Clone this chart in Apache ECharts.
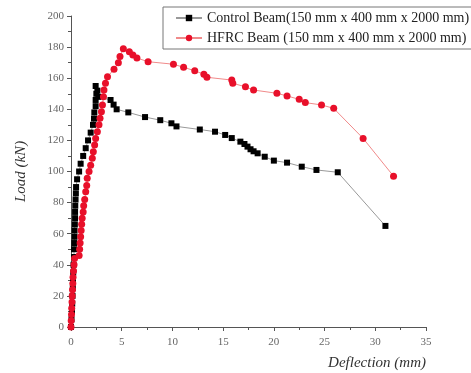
<!DOCTYPE html>
<html>
<head>
<meta charset="utf-8">
<script src="https://cdn.jsdelivr.net/npm/echarts@6/dist/echarts.min.js"></script>
<style>
  html, body { margin: 0; padding: 0; background: #fff; }
  #chart { width: 471px; height: 373px; }
</style>
</head>
<body>
<div id="chart"></div>
<script>
// deflection (mm), load (kN)
const controlDeflection = [0, 0.05, 0.1, 0.12, 0.15, 0.18, 0.2, 0.22, 0.25, 0.3, 0.3, 0.32, 0.35, 0.35, 0.38, 0.4, 0.4, 0.42, 0.45, 0.48, 0.5, 0.6, 0.8, 0.95, 1.2, 1.45, 1.68, 1.94, 2.17, 2.27, 2.3, 2.43, 2.43, 2.5, 2.43, 2.6, 2.7, 3.9, 4.2, 4.5, 5.65, 7.3, 8.8, 9.9, 10.4, 12.7, 14.2, 15.2, 15.85, 16.7, 17.1, 17.4, 17.7, 18.0, 18.4, 19.1, 20.0, 21.3, 22.75, 24.2, 26.3, 31.0];
const controlLoad = [0, 5, 10, 15, 20, 25, 30, 35, 40, 45, 50, 54, 58, 62, 66, 70, 74, 78, 82, 86, 90, 95, 100, 105, 110, 115, 120, 125, 130, 134, 138, 142, 146, 150, 155, 152, 148, 146, 143, 140, 138, 135, 133, 131, 129, 127, 125.6, 123.5, 121.5, 119.2, 117.7, 116, 114.3, 113, 111.7, 109.5, 107, 105.7, 103.1, 101, 99.5, 65];

const hfrcDeflection = [0, 0.02, 0.05, 0.07, 0.1, 0.12, 0.15, 0.18, 0.2, 0.25, 0.3, 0.35, 0.8, 0.85, 0.9, 0.95, 1.0, 1.05, 1.1, 1.2, 1.25, 1.35, 1.45, 1.55, 1.6, 1.78, 1.94, 2.1, 2.2, 2.33, 2.43, 2.6, 2.76, 2.86, 3.0, 3.1, 3.2, 3.25, 3.4, 3.6, 4.24, 4.67, 4.83, 5.16, 5.75, 6.1, 6.5, 7.6, 10.1, 11.1, 12.2, 13.1, 13.4, 15.85, 15.95, 17.2, 18.0, 20.3, 21.3, 22.5, 23.1, 24.7, 25.9, 28.8, 31.8];
const hfrcLoad = [0, 4, 8, 12, 16, 20, 24, 28, 32, 36, 40, 44, 46, 50, 54, 58, 62, 66, 70, 74, 78, 82, 87, 91, 95.6, 100, 104, 108.5, 112.7, 117, 121.3, 125.6, 130, 134.2, 138.5, 142.8, 148, 152.4, 156.7, 161, 165.7, 170, 174, 179, 177, 175, 173, 170.6, 169, 167, 164.8, 162.5, 160.6, 158.8, 156.7, 154.5, 152.4, 150.3, 148.6, 146.4, 144.3, 142.8, 140.6, 121.3, 97];

const seriesNames = ["Control Beam(150 mm x 400 mm x 2000 mm)", "HFRC Beam (150 mm x 400 mm x 2000 mm)"];

const zip = (xs, ys) => xs.map((x, i) => [x, ys[i]]);

const chart = echarts.init(document.getElementById("chart"));

const serif = "Liberation Serif";
const axisColor = "#555";

const options = {
  backgroundColor: "#ffffff",
  animation: false,
  grid: { left: 71, right: 45, top: 16, bottom: 46 },
  legend: {
    orient: "vertical",
    left: 163,
    top: 7,
    padding: [4, 8, 4, 12],
    itemGap: 6,
    itemWidth: 26,
    itemHeight: 8,
    borderColor: "#777",
    borderWidth: 1,
    textStyle: { fontFamily: serif, fontSize: 14, color: "#222" },
    data: seriesNames,
  },
  xAxis: {
    type: "value",
    min: 0,
    max: 35,
    interval: 5,
    name: "Deflection (mm)",
    nameLocation: "end",
    nameGap: 0,
    nameTextStyle: {
      fontFamily: serif,
      fontStyle: "italic",
      fontSize: 15,
      color: "#333",
      align: "right",
      verticalAlign: "top",
      padding: [29, 0, 0, 0],
    },
    axisLine: { lineStyle: { color: axisColor, width: 1 } },
    axisTick: { show: true, length: 4, lineStyle: { color: axisColor } },
    minorTick: { show: true, splitNumber: 2, length: 3, lineStyle: { color: axisColor } },
    axisLabel: { fontFamily: serif, fontSize: 11, color: "#666", margin: 10 },
    splitLine: { show: false },
  },
  yAxis: {
    type: "value",
    min: 0,
    max: 200,
    interval: 20,
    name: "Load (kN)",
    nameLocation: "middle",
    nameGap: 42,
    nameTextStyle: {
      fontFamily: serif,
      fontStyle: "italic",
      fontSize: 15,
      color: "#333",
    },
    axisLine: { show: true, lineStyle: { color: axisColor, width: 1 } },
    axisTick: { show: true, length: 4, lineStyle: { color: axisColor } },
    minorTick: { show: true, splitNumber: 2, length: 3, lineStyle: { color: axisColor } },
    axisLabel: { fontFamily: serif, fontSize: 11, color: "#666", margin: 7 },
    splitLine: { show: false },
  },
  series: [
    {
      name: seriesNames[0],
      type: "line",
      data: zip(controlDeflection, controlLoad),
      symbol: "rect",
      symbolSize: 6,
      itemStyle: { color: "#000000" },
      lineStyle: { color: "#999999", width: 1 },
    },
    {
      name: seriesNames[1],
      type: "line",
      data: zip(hfrcDeflection, hfrcLoad),
      symbol: "circle",
      symbolSize: 7,
      itemStyle: { color: "#e8102a" },
      lineStyle: { color: "#f08a8a", width: 1 },
    },
  ],
};

chart.setOption(options);
</script>
</body>
</html>
